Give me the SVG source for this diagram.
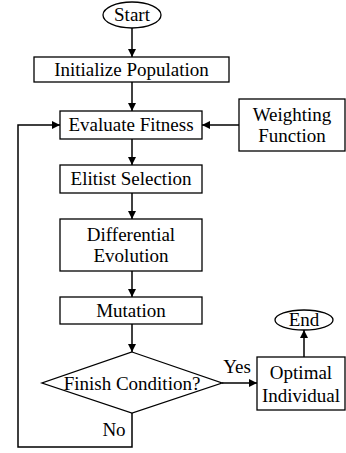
<svg xmlns="http://www.w3.org/2000/svg" width="346" height="453" viewBox="0 0 346 453">
<defs>
<marker id="a" viewBox="0 0 10 10" refX="10" refY="5" markerWidth="8" markerHeight="8" markerUnits="userSpaceOnUse" orient="auto">
<path d="M0,0L10,5L0,10z" fill="#000"/>
</marker>
</defs>
<rect width="346" height="453" fill="#fff"/>
<g id="connectors" fill="none" stroke="#000" stroke-width="1.5" marker-end="url(#a)">
<path d="M132,28V57"/>
<path d="M132,82V111"/>
<path d="M239,125H202"/>
<path d="M132,139V165"/>
<path d="M132,193V219"/>
<path d="M132,271V297"/>
<path d="M132,324V352"/>
<path d="M222,383H257"/>
<path d="M304,357V330"/>
<path d="M132,413V447H18V125H60"/>
</g>
<g id="labels" font-family="Liberation Serif" font-size="19" text-anchor="middle">
<text x="237" y="373">Yes</text>
<text x="114" y="436">No</text>
</g>
<g fill="#fff" stroke="#000" stroke-width="1.3">
<g id="start"><ellipse cx="132" cy="15" rx="29" ry="13"/></g>
<g id="init"><rect x="34" y="57" width="195" height="25"/></g>
<g id="eval"><rect x="60" y="111" width="142" height="28"/></g>
<g id="weight"><rect x="239" y="99" width="106" height="52"/></g>
<g id="elitist"><rect x="60" y="165" width="142" height="28"/></g>
<g id="de"><rect x="60" y="219" width="142" height="52"/></g>
<g id="mutation"><rect x="60" y="297" width="142" height="27"/></g>
<g id="finish"><path d="M132,352L222,383L132,413L42,383Z"/></g>
<g id="optimal"><rect x="257" y="357" width="88" height="53"/></g>
<g id="end"><ellipse cx="304" cy="320" rx="29" ry="10"/></g>
</g>
<g id="texts" font-family="Liberation Serif" font-size="19" text-anchor="middle" fill="#000">
<text x="132" y="21">Start</text>
<text x="131.5" y="76">Initialize Population</text>
<text x="131" y="131">Evaluate Fitness</text>
<text x="292" y="121">Weighting</text>
<text x="292" y="142">Function</text>
<text x="131" y="185">Elitist Selection</text>
<text x="131" y="241">Differential</text>
<text x="131" y="262">Evolution</text>
<text x="131" y="317">Mutation</text>
<text x="132" y="390">Finish Condition?</text>
<text x="301" y="379">Optimal</text>
<text x="301" y="402">Individual</text>
<text x="304" y="326">End</text>
</g>
</svg>
